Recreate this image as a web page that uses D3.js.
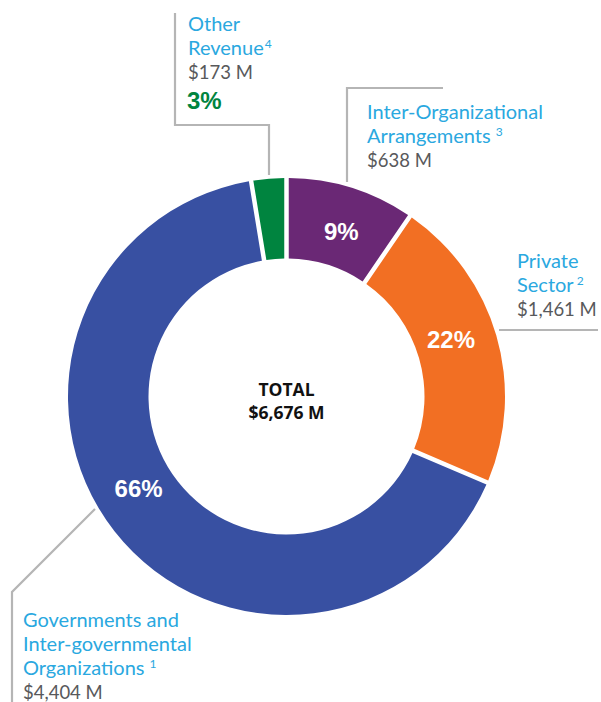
<!DOCTYPE html>
<html>
<head>
<meta charset="utf-8">
<script src="https://cdn.jsdelivr.net/npm/d3@7"></script>
<style>
  html, body { margin: 0; padding: 0; background: #fff; }
  svg { display: block; }
  .lbl { font-family: Lato, "Open Sans", sans-serif; font-size: 20px; }
  .amt { font-size: 18.5px; }
  .pct { font-family: "Liberation Sans", Arial, sans-serif; font-weight: bold; font-size: 24px; }
  .tot { font-family: "Open Sans", sans-serif; font-weight: bold; font-size: 17.5px; }
</style>
</head>
<body>
<svg id="chart" width="601" height="702"></svg>
<script>
// revenue by source, $ millions (clockwise from 12 o'clock)
const categories = ["Inter-Organizational Arrangements", "Private Sector",
  "Governments and Inter-governmental Organizations", "Other Revenue"];
const values = [638, 1461, 4404, 173];
const pctLabels = ["9%", "22%", "66%", "3%"];
const amountLabels = ["$638 M", "$1,461 M", "$4,404 M", "$173 M"];
const footnotes = ["3", "2", "1", "4"];
const totalLabel = "$6,676 M";

const colors = ["#6a2875", "#f26f23", "#3850a2", "#00843f"];
const BLUE = "#2aa8e0", GRAY = "#58595b", LINE = "#b5b5b5";

const W = 601, H = 702, CX = 286.5, CY = 396.5, R = 218.5, R0 = 138;
const svg = d3.select("#chart");

// ---- leader lines (drawn under the ring) ----
const leaders = [
  [[347, 182], [347, 88], [443, 88]],
  [[499, 330], [598, 330]],
  [[95, 509], [12, 592], [12, 702]],
  [[269, 175], [269, 125], [175, 125], [175, 13]]
];
svg.append("g").selectAll("path").data(leaders).join("path")
  .attr("d", d3.line())
  .attr("fill", "none").attr("stroke", LINE).attr("stroke-width", 2.2);

// ---- ring ----
const pie = d3.pie().sort(null).value(d => d)(values);
const arc = d3.arc().innerRadius(R0).outerRadius(R)
  .padRadius(R).padAngle(4.5 / R);
const g = svg.append("g").attr("transform", `translate(${CX},${CY})`);
g.selectAll("path.slice").data(pie).join("path")
  .attr("class", "slice")
  .attr("fill", (d, i) => colors[i])
  .attr("d", arc);

// ---- percent labels inside ring ----
const labelArc = d3.arc().innerRadius(174).outerRadius(174);
const angleNudge = [0.02, -0.05, 0.11, 0];
g.selectAll("text.pct").data(pie.slice(0, 3)).join("text")
  .attr("class", "pct")
  .attr("fill", "#fff")
  .attr("text-anchor", "middle")
  .attr("dy", "0.36em")
  .attr("transform", (d, i) => {
    const a = (d.startAngle + d.endAngle) / 2 + angleNudge[i];
    const c = labelArc.centroid({ startAngle: a, endAngle: a });
    return `translate(${c[0]},${c[1]})`;
  })
  .text((d, i) => pctLabels[i]);

// ---- centre total ----
g.append("text").attr("class", "tot").attr("text-anchor", "middle")
  .attr("y", -1).attr("fill", "#111").text("TOTAL");
g.append("text").attr("class", "tot").attr("text-anchor", "middle")
  .attr("y", 22).attr("fill", "#111").text(totalLabel);

// ---- outside labels ----
const LH = 24;
function label(x, y, lines, supIdx, amount, gap) {
  const t = svg.append("g").attr("class", "lbl");
  lines.forEach((ln, j) => {
    const tx = t.append("text").attr("x", x).attr("y", y + j * LH).attr("fill", BLUE).text(ln);
    if (j === lines.length - 1) {
      tx.append("tspan").attr("dx", gap).attr("dy", -7).attr("font-size", 12)
        .text(footnotes[supIdx]);
    }
  });
  t.append("text").attr("class", "amt").attr("x", x).attr("y", y + lines.length * LH)
    .attr("fill", GRAY).text(amount);
  return y + lines.length * LH;
}

label(367, 119, ["Inter-Organizational", "Arrangements"], 0, amountLabels[0], 5);
label(517, 268, ["Private", "Sector"], 1, amountLabels[1], 3);
label(23, 627, ["Governments and", "Inter-governmental", "Organizations"], 2, amountLabels[2], 5);
const yo = label(188, 31, ["Other", "Revenue"], 3, amountLabels[3], 1);
svg.append("text").attr("class", "pct").attr("x", 187).attr("y", yo + 30)
  .attr("fill", colors[3]).text(pctLabels[3]);
</script>
</body>
</html>
